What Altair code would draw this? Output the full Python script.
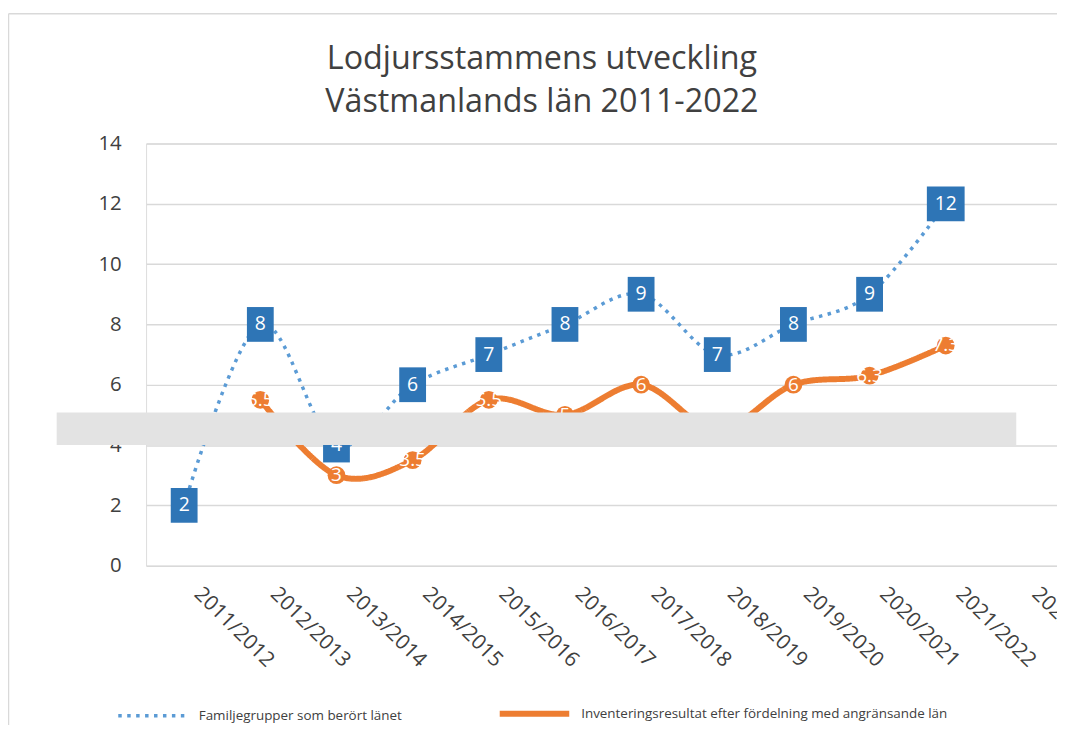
import altair as alt
import pandas as pd

# ---- data ----
periods = ["2011/2012", "2012/2013", "2013/2014", "2014/2015", "2015/2016", "2016/2017",
           "2017/2018", "2018/2019", "2019/2020", "2020/2021", "2021/2022", "2022/2023"]
familjegrupper = [2, 8, 4, 6, 7, 8, 9, 7, 8, 9, 12, None]
inventering = [None, 5.5, 3, 3.5, 5.5, 5, 6, 4.5, 6, 6.3, 7.3, None]
series_names = ["Familjegrupper som berört länet",
                "Inventeringsresultat efter fördelning med angränsande län"]
title_lines = ["Lodjursstammens utveckling", "Västmanlands län 2011-2022"]
y_ticks = [0, 2, 4, 6, 8, 10, 12, 14]
masked_band = [4.0, 5.08]   # grey overlay band seen in the picture (value range)

# ---- styles ----
line_colors = ["#5b9bd5", "#ed7d31"]
box_color = "#2e75b6"
FONT = "Open Sans"
TEXT_GREY = "#404040"
GRID = "#d9d9d9"

rows = []
for p, f, i in zip(periods, familjegrupper, inventering):
    if f is not None:
        rows.append({"period": p, "series": series_names[0], "value": f})
    if i is not None:
        rows.append({"period": p, "series": series_names[1], "value": i})
df = pd.DataFrame(rows)

x_enc = alt.X("period:O", title=None,
              scale=alt.Scale(domain=periods, range=[0, 920]),
              axis=alt.Axis(labelAngle=45, labelAlign="left", labelBaseline="middle",
                            labelPadding=25, labelOffset=13, labelFontSize=21,
                            labelColor=TEXT_GREY, labelFont=FONT, ticks=False, tickSize=0,
                            domain=False, grid=False, labelOverlap=False, labelBound=False))
y_enc = alt.Y("value:Q", title=None,
              scale=alt.Scale(domain=[0, 14], nice=False, zero=True),
              axis=alt.Axis(values=y_ticks, labelFontSize=20.5, labelColor=TEXT_GREY,
                            labelFont=FONT, labelPadding=25, ticks=False, tickSize=0,
                            domain=False, grid=True, gridColor=GRID, gridWidth=1.5))

legend = alt.Legend(orient="none", legendX=-30, legendY=536, direction="horizontal",
                    title=None, symbolType="stroke", symbolSize=4900,
                    labelFontSize=13.5, labelColor=TEXT_GREY, labelFont=FONT,
                    labelOffset=9, columnPadding=86, labelLimit=600)

lines = alt.Chart(df).mark_line(interpolate="cardinal").encode(
    x=x_enc, y=y_enc,
    color=alt.Color("series:N", scale=alt.Scale(domain=series_names, range=line_colors), legend=legend),
    strokeDash=alt.StrokeDash("series:N", scale=alt.Scale(domain=series_names, range=[[3.5, 5.5], [1, 0]]), legend=legend),
    strokeWidth=alt.StrokeWidth("series:N", scale=alt.Scale(domain=series_names, range=[3.5, 6]), legend=legend),
)

orange = alt.Chart(df).transform_filter(alt.datum.series == series_names[1])
blue = alt.Chart(df).transform_filter(alt.datum.series == series_names[0])

orange_pts = orange.mark_circle(size=320, opacity=1, color=line_colors[1]).encode(x=x_enc, y=y_enc)
orange_txt = orange.mark_text(color="white", fontSize=19, font=FONT, align="center", baseline="middle").encode(
    x=x_enc, y=y_enc, text=alt.Text("value:Q", format="~g"))

path_narrow = "M-0.771,-1L0.771,-1L0.771,1L-0.771,1Z"
path_wide = "M-1.086,-1L1.086,-1L1.086,1L-1.086,1Z"
blue_box = blue.mark_point(filled=True, opacity=1, size=1225, color=box_color, strokeWidth=0).encode(
    x=x_enc, y=y_enc,
    shape=alt.condition("datum.value >= 10", alt.value(path_wide), alt.value(path_narrow)))
blue_txt = blue.mark_text(color="white", fontSize=19.5, font=FONT, align="center", baseline="middle").encode(
    x=x_enc, y=y_enc, text=alt.Text("value:Q", format="~g"))

band_df = pd.DataFrame({"lo": [masked_band[0]], "hi": [masked_band[1]]})
band = alt.Chart(band_df).mark_rect(color="#e3e3e3").encode(
    y=alt.Y("lo:Q", scale=alt.Scale(domain=[0, 14], nice=False)), y2="hi:Q",
    x=alt.value(-90), x2=alt.value(876))

frame_df = pd.DataFrame({"k": [0]})
frame_left = alt.Chart(frame_df).mark_rule(color=GRID, strokeWidth=1.5).encode(
    x=alt.value(-138.5), y=alt.value(-130.5), y2=alt.value(700))
frame_top = alt.Chart(frame_df).mark_rule(color=GRID, strokeWidth=1.5).encode(
    x=alt.value(-138.5), x2=alt.value(940), y=alt.value(-130.5))

chart = alt.layer(
    frame_left, frame_top, lines, orange_pts, orange_txt, blue_box, blue_txt, band
).properties(
    width=917, height=425,
    padding={"left": 139, "top": 134, "right": 0, "bottom": 158},
    autosize=alt.AutoSizeParams(type="none"),
    title=alt.TitleParams(text=title_lines, fontSize=32.5, font=FONT, fontWeight="normal",
                          color="#404040", anchor="middle", frame="group", dx=-60,
                          offset=-139, lineHeight=43, baseline="bottom"),
).configure_view(stroke=None).configure(font=FONT)

chart.save("out.html", embed_options={"renderer": "svg", "actions": False})
